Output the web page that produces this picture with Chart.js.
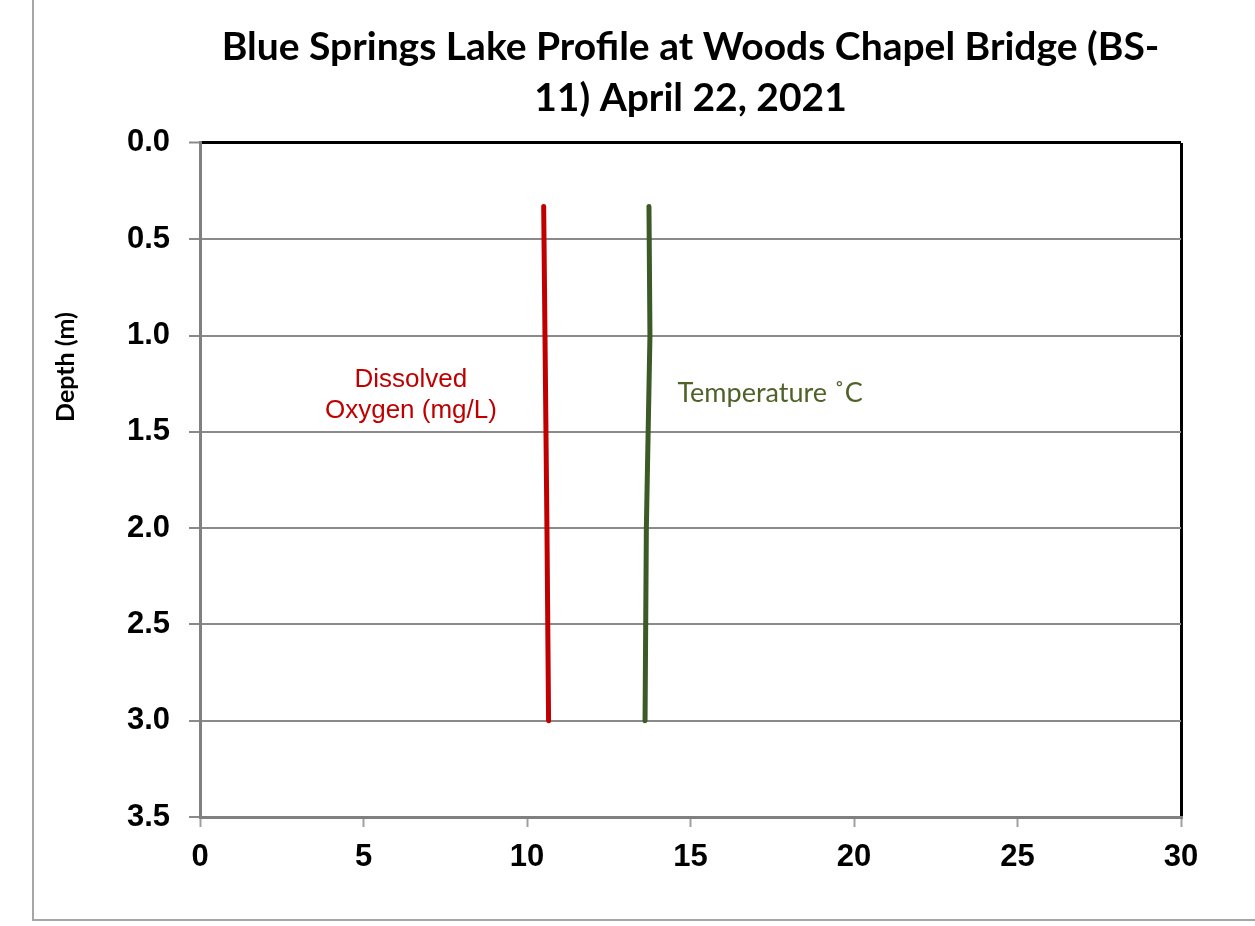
<!DOCTYPE html>
<html>
<head>
<meta charset="utf-8">
<script src="https://cdn.jsdelivr.net/npm/chart.js@4/dist/chart.umd.min.js"></script>
<style>
  html, body { margin: 0; padding: 0; background: #fff; }
  #wrap { width: 1255px; height: 926px; }
</style>
</head>
<body>
<div id="wrap"><canvas id="profileChart" width="1255" height="926"></canvas></div>
<script>
// depth of each reading (m)
var depths = [0.33, 1.0, 2.0, 3.0];
var oxygen = [10.51, 10.55, 10.61, 10.66];       // mg/L
var temperature = [13.73, 13.76, 13.65, 13.61];  // deg C

var xTicks = [0, 5, 10, 15, 20, 25, 30];
var yTicks = [0, 0.5, 1.0, 1.5, 2.0, 2.5, 3.0, 3.5];

function toPoints(xs) {
	return depths.map(function(d, i) { return { x: xs[i], y: d }; });
}

// frame, axis title and the two line labels
var extras = {
	id: 'extras',
	afterDraw: function(chart) {
		var ctx = chart.ctx;
		var xs = chart.scales.x, ys = chart.scales.y;
		ctx.save();
		ctx.strokeStyle = '#a6a6a6';
		ctx.lineWidth = 2;
		ctx.beginPath();
		ctx.moveTo(33, 0);
		ctx.lineTo(33, 920);
		ctx.lineTo(1255, 920);
		ctx.stroke();

		ctx.fillStyle = '#000';
		ctx.font = 'bold 25px Lato';
		ctx.textAlign = 'center';
		ctx.textBaseline = 'middle';
		ctx.translate(66, 367);
		ctx.rotate(-Math.PI / 2);
		ctx.fillText('Depth (m)', 0, 0);
		ctx.restore();

		ctx.save();
		ctx.fillStyle = '#c00000';
		ctx.font = '26px "Liberation Sans"';
		ctx.textAlign = 'center';
		ctx.textBaseline = 'alphabetic';
		var cx = xs.getPixelForValue(6.45);
		ctx.fillText('Dissolved', cx, ys.getPixelForValue(1.27) - 1);
		ctx.fillText('Oxygen (mg/L)', cx, ys.getPixelForValue(1.42) + 2);

		ctx.fillStyle = '#4f6228';
		ctx.font = '27px Lato';
		ctx.textAlign = 'left';
		ctx.fillText('Temperature \u02DAC', xs.getPixelForValue(14.6), ys.getPixelForValue(1.35) - 1);
		ctx.restore();
	}
};

var config = {
	type: 'scatter',
	data: {
		datasets: [{
			label: 'Dissolved Oxygen (mg/L)',
			data: toPoints(oxygen),
			borderColor: '#c00000',
			backgroundColor: '#c00000',
			borderWidth: 5,
			borderCapStyle: 'round',
			borderJoinStyle: 'round',
			pointRadius: 0,
			showLine: true
		}, {
			label: 'Temperature \u02DAC',
			data: toPoints(temperature),
			borderColor: '#3b5a26',
			backgroundColor: '#3b5a26',
			borderWidth: 5,
			borderCapStyle: 'round',
			borderJoinStyle: 'round',
			pointRadius: 0,
			showLine: true
		}]
	},
	options: {
		responsive: false,
		animation: false,
		layout: {
			padding: { left: 0, right: 74, top: 0, bottom: 0 }
		},
		plugins: {
			legend: { display: false },
			tooltip: { enabled: false },
			title: {
				display: true,
				fullSize: false,
				text: ['Blue Springs Lake Profile at Woods Chapel Bridge (BS-', '11) April 22, 2021'],
				color: '#000',
				font: { family: 'Lato', size: 39, weight: 'bold', lineHeight: 1.33 },
				padding: { top: 21, bottom: 18.2 }
			}
		},
		scales: {
			x: {
				type: 'linear',
				min: 0,
				max: 30,
				afterFit: function(scale) { scale.height = 109; },
				afterBuildTicks: function(scale) {
					scale.ticks = xTicks.map(function(v) { return { value: v }; });
				},
				ticks: {
					color: '#000',
					font: { family: 'Liberation Sans', size: 31, weight: 'bold' },
					padding: 12,
					maxRotation: 0
				},
				grid: {
					color: function(c) { return c.tick && c.tick.value === 30 ? '#000' : 'rgba(0,0,0,0)'; },
					lineWidth: 3,
					tickColor: '#a0a0a0',
					tickWidth: 2,
					tickLength: 10
				},
				border: { color: '#808080', width: 3 }
			},
			y: {
				type: 'linear',
				reverse: true,
				min: 0,
				max: 3.5,
				afterFit: function(scale) { scale.width = 200; },
				afterBuildTicks: function(scale) {
					scale.ticks = yTicks.map(function(v) { return { value: v }; });
				},
				ticks: {
					color: '#000',
					font: { family: 'Liberation Sans', size: 31, weight: 'bold' },
					padding: 19,
					callback: function(v) { return v.toFixed(1); }
				},
				grid: {
					color: function(c) { return c.tick && c.tick.value === 0 ? '#000' : '#8a8a8a'; },
					lineWidth: function(c) { return c.tick && c.tick.value === 0 ? 3 : 2; },
					tickColor: '#8a8a8a',
					tickWidth: 2,
					tickLength: 11
				},
				border: { color: '#808080', width: 3 }
			}
		}
	},
	plugins: [extras]
};

window.onload = function() {
	var ctx = document.getElementById('profileChart').getContext('2d');
	window.profileChart = new Chart(ctx, config);
};
</script>
</body>
</html>
